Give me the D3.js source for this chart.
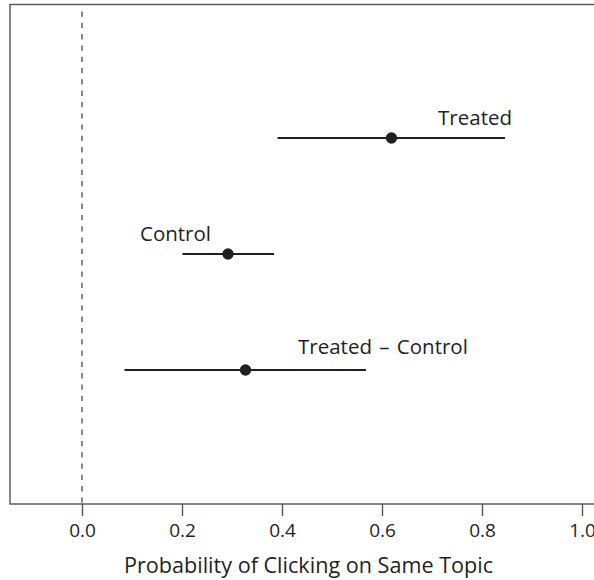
<!DOCTYPE html>
<html><head><meta charset="utf-8">
<script src="https://cdn.jsdelivr.net/npm/d3@7/dist/d3.min.js"></script>
<style>body{margin:0;background:#fff}svg{display:block}</style>
</head><body>
<script>
const labels = ["Treated", "Control", "Treated \u2013 Control"];
const estimates = [0.619, 0.292, 0.327];
const lower = [0.391, 0.201, 0.085];
const upper = [0.846, 0.384, 0.568];
const xTicks = [0.0, 0.2, 0.4, 0.6, 0.8, 1.0];
const xTitle = "Probability of Clicking on Same Topic";

const W = 594, H = 580;
const svg = d3.select("body").append("svg").attr("width", W).attr("height", H);
const font = "'Open Sans', sans-serif";
const x = d3.scaleLinear().domain([0, 1]).range([82, 582]);
const xDom = [-0.144, 1.04];
const y = d3.scaleLinear().domain([0, 1, 2]).range([138, 254, 370]);
const boxTop = 4.5, boxBottom = 504;

// dashed zero line
svg.append("line").attr("x1", x(0)).attr("x2", x(0)).attr("y1", boxTop + 7).attr("y2", boxBottom)
  .attr("stroke", "#555").attr("stroke-width", 1.4).attr("stroke-dasharray", "5.3,6");

// box
svg.append("rect").attr("x", x(xDom[0])).attr("y", boxTop)
  .attr("width", x(xDom[1]) - x(xDom[0])).attr("height", boxBottom - boxTop)
  .attr("fill", "none").attr("stroke", "#555").attr("stroke-width", 1.4);

// axis
const axis = d3.axisBottom(x).tickValues(xTicks).tickFormat(d3.format(".1f")).tickSize(12).tickSizeOuter(0).tickPadding(8);
const g = svg.append("g").attr("transform", `translate(0,${boxBottom})`).call(axis);
g.select(".domain").remove();
g.selectAll(".tick line").attr("stroke", "#555").attr("stroke-width", 1.4);
g.selectAll(".tick text").attr("fill", "#231f20").style("font-family", font).style("font-size", "19px");

svg.append("text").attr("x", (124 + 493) / 2).attr("y", 573).attr("text-anchor", "middle")
  .attr("fill", "#231f20").style("font-family", font).style("font-size", "21.6px").text(xTitle);

// intervals
const idx = d3.range(labels.length);
svg.selectAll(".ci").data(idx).join("line")
  .attr("x1", i => x(lower[i])).attr("x2", i => x(upper[i]))
  .attr("y1", i => y(i)).attr("y2", i => y(i))
  .attr("stroke", "#231f20").attr("stroke-width", 2);
svg.selectAll(".pt").data(idx).join("circle")
  .attr("cx", i => x(estimates[i])).attr("cy", i => y(i)).attr("r", 5.7)
  .attr("fill", "#231f20");

// labels
const labPos = [[512, "end", 125], [140, "start", 241], [298, "start", 354]];
svg.selectAll(".lab").data(idx).join("text")
  .attr("x", i => labPos[i][0]).attr("y", i => labPos[i][2]).attr("text-anchor", i => labPos[i][1])
  .attr("fill", "#231f20").style("font-family", font).style("font-size", "20.5px")
  .style("word-spacing", i => i === 2 ? "2px" : "0px")
  .text(i => labels[i]);
</script>
</body></html>
